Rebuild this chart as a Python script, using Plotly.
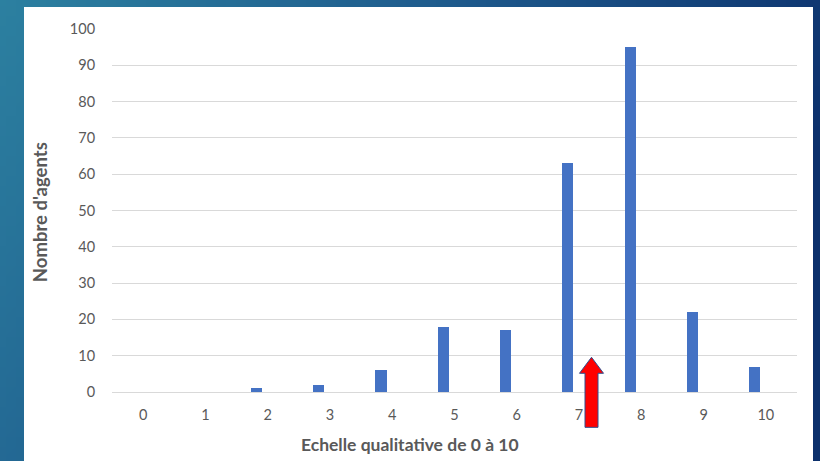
import base64
import struct
import zlib

import plotly.graph_objects as go

# Distribution of ratings on a 0-10 scale
scores = [0, 1, 2, 3, 4, 5, 6, 7, 8, 9, 10]
agents = [0, 0, 1, 2, 6, 18, 17, 63, 95, 22, 7]
y_ticks = [0, 10, 20, 30, 40, 50, 60, 70, 80, 90, 100]
mean_score = 7.2  # position of the red arrow on the scale

x_title = "Echelle qualitative de 0 à 10"
y_title = "Nombre d'agents"

W, H = 820, 461
L, R, T, B = 112, 23, 29, 69.3
PW, PH = W - L - R, H - T - B


def px_to_paper_x(px):
    return (px - L) / PW


def px_to_paper_y(py):
    return (H - B - py) / PH


def gradient_png(w, h):
    """Small diagonal blue gradient, stretched as the slide background."""
    stops = [(0.0, (44, 128, 160)), (0.5, (30, 90, 140)), (1.0, (12, 48, 108))]

    def col(t):
        t = max(0.0, min(1.0, t))
        for (t0, c0), (t1, c1) in zip(stops, stops[1:]):
            if t <= t1:
                f = (t - t0) / (t1 - t0)
                return tuple(int(round(a + (b - a) * f)) for a, b in zip(c0, c1))
        return stops[-1][1]

    raw = b""
    for j in range(h):
        row = b"\x00"
        for i in range(w):
            u, v = i / (w - 1), j / (h - 1)
            row += bytes(col(0.9 * u + 0.3 * v))
        raw += row

    def chunk(tag, data):
        c = struct.pack(">I", len(data)) + tag + data
        return c + struct.pack(">I", zlib.crc32(tag + data) & 0xFFFFFFFF)

    png = b"\x89PNG\r\n\x1a\n"
    png += chunk(b"IHDR", struct.pack(">IIBBBBB", w, h, 8, 2, 0, 0, 0))
    png += chunk(b"IDAT", zlib.compress(raw, 9))
    png += chunk(b"IEND", b"")
    return "data:image/png;base64," + base64.b64encode(png).decode()


fig = go.Figure(
    go.Bar(
        x=scores,
        y=agents,
        width=0.18,
        offset=-0.27,
        marker=dict(color="#4472c4", line=dict(width=0)),
        hoverinfo="x+y",
    )
)

# Slide background and white chart panel
fig.add_layout_image(
    source=gradient_png(82, 46),
    xref="paper", yref="paper",
    x=px_to_paper_x(0), y=px_to_paper_y(0),
    sizex=W / PW, sizey=H / PH,
    xanchor="left", yanchor="top",
    sizing="stretch", layer="below",
)
fig.add_shape(
    type="rect", xref="paper", yref="paper", layer="below",
    x0=px_to_paper_x(24), x1=px_to_paper_x(813),
    y0=px_to_paper_y(462), y1=px_to_paper_y(7),
    fillcolor="white", line=dict(width=0),
)

# Red arrow pointing at the mean score
ax = (mean_score + 0.5) / 11
head_half = 12 / PW
shaft_half = 6.5 / PW
tip_y, base_y, bottom_y = px_to_paper_y(357), px_to_paper_y(373), px_to_paper_y(427)
path = (
    f"M {ax},{tip_y} L {ax + head_half},{base_y} L {ax + shaft_half},{base_y} "
    f"L {ax + shaft_half},{bottom_y} L {ax - shaft_half},{bottom_y} "
    f"L {ax - shaft_half},{base_y} L {ax - head_half},{base_y} Z"
)
fig.add_shape(
    type="path", path=path, xref="paper", yref="paper", layer="above",
    fillcolor="#ff0000", line=dict(color="#2f4f8f", width=1),
)

# Axis titles, placed relative to the whole chart panel
fig.add_annotation(
    text=f"<b>{x_title}</b>", xref="paper", yref="paper",
    x=px_to_paper_x(410), y=px_to_paper_y(444),
    xanchor="center", yanchor="middle", showarrow=False,
    font=dict(size=17.5, color="#595959"),
)
fig.add_annotation(
    text=f"<b>{y_title}</b>", xref="paper", yref="paper",
    x=px_to_paper_x(40), y=px_to_paper_y(212), textangle=-90,
    xanchor="center", yanchor="middle", showarrow=False,
    font=dict(size=18.5, color="#595959"),
)

font_main = "Lato, 'Liberation Sans', sans-serif"
fig.update_layout(
    width=W, height=H,
    margin=dict(l=L, r=R, t=T, b=B, pad=0),
    paper_bgcolor="#1f5f90",
    plot_bgcolor="rgba(0,0,0,0)",
    showlegend=False,
    bargap=0,
    font=dict(family=font_main, size=14, color="#595959"),
    xaxis=dict(
        range=[-0.5, 10.5],
        tickmode="array", tickvals=scores, ticktext=[str(s) for s in scores],
        showgrid=False, zeroline=False, showline=False,
        ticks="outside", ticklen=10, tickcolor="rgba(0,0,0,0)",
        tickfont=dict(size=14.5, color="#595959"),
        automargin=False, fixedrange=True,
    ),
    yaxis=dict(
        range=[0, 100],
        tickmode="array", tickvals=y_ticks,
        showgrid=True, gridcolor="#d9d9d9", gridwidth=1,
        zeroline=True, zerolinecolor="#d9d9d9", zerolinewidth=1,
        showline=False,
        ticks="outside", ticklen=13, tickcolor="rgba(0,0,0,0)",
        tickfont=dict(size=14.5, color="#595959"),
        automargin=False, fixedrange=True,
    ),
)

fig.write_html("out.html")
